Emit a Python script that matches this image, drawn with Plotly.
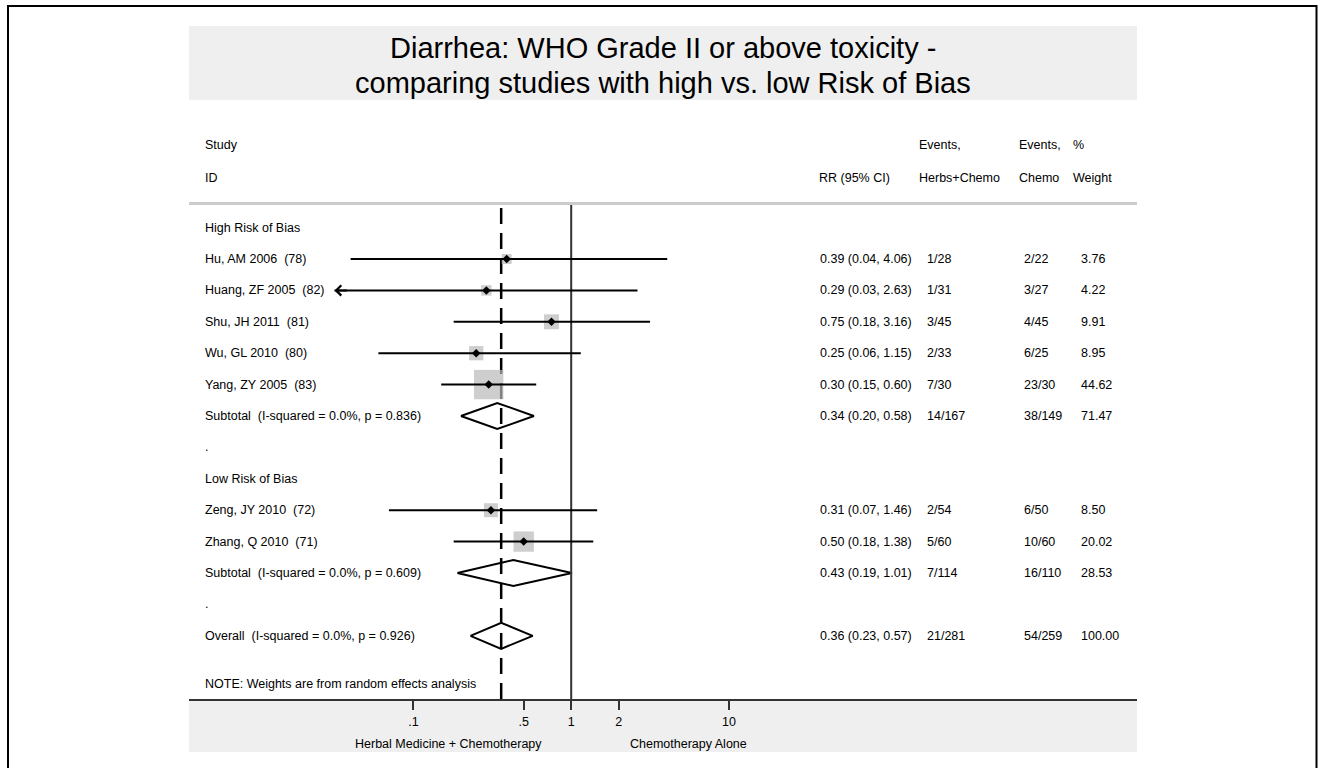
import numpy as np
import plotly.graph_objects as go

# ---------------- data ----------------
high_study = ["Hu, AM 2006  (78)", "Huang, ZF 2005  (82)", "Shu, JH 2011  (81)",
              "Wu, GL 2010  (80)", "Yang, ZY 2005  (83)"]
high_rr = [0.39, 0.29, 0.75, 0.25, 0.30]
high_lo = [0.04, 0.03, 0.18, 0.06, 0.15]
high_hi = [4.06, 2.63, 3.16, 1.15, 0.60]
high_ev_herb = ["1/28", "1/31", "3/45", "2/33", "7/30"]
high_ev_chemo = ["2/22", "3/27", "4/45", "6/25", "23/30"]
high_weight = [3.76, 4.22, 9.91, 8.95, 44.62]

low_study = ["Zeng, JY 2010  (72)", "Zhang, Q 2010  (71)"]
low_rr = [0.31, 0.50]
low_lo = [0.07, 0.18]
low_hi = [1.46, 1.38]
low_ev_herb = ["2/54", "5/60"]
low_ev_chemo = ["6/50", "10/60"]
low_weight = [8.50, 20.02]

group_names = ["High Risk of Bias", "Low Risk of Bias"]
sub_labels = ["Subtotal  (I-squared = 0.0%, p = 0.836)",
              "Subtotal  (I-squared = 0.0%, p = 0.609)"]
sub_rr = [0.34, 0.43]
sub_lo = [0.20, 0.19]
sub_hi = [0.58, 1.01]
sub_ev_herb = ["14/167", "7/114"]
sub_ev_chemo = ["38/149", "16/110"]
sub_weight = [71.47, 28.53]

overall_label = "Overall  (I-squared = 0.0%, p = 0.926)"
overall_rr = 0.36
overall_lo = 0.23
overall_hi = 0.57
overall_ev_herb = "21/281"
overall_ev_chemo = "54/259"
overall_weight = 100.00

tick_vals = [0.1, 0.5, 1, 2, 10]
tick_text = [".1", ".5", "1", "2", "10"]

title_lines = ["Diarrhea: WHO Grade II or above toxicity -",
               "comparing studies with high vs. low Risk of Bias"]
note_text = "NOTE: Weights are from random effects analysis"
favours_left = "Herbal Medicine + Chemotherapy"
favours_right = "Chemotherapy Alone"

# ---------------- layout geometry (pixels) ----------------
W, H = 1318, 768
PL, PR, PT, PB = 189, 1137, 203, 699          # plot area
X_ONE, DECADE = 571.2, 157.8                  # px of RR=1, px per decade
ROW0, ROWH = 227.6, 31.4                      # px of row 0, row height
AXIS_MIN = 10 ** -1.5                         # Stata symmetric display limit

def px2paper_x(px):
    return (px - PL) / (PR - PL)

def px2paper_y(py):
    return (PB - py) / (PB - PT)

def px2row(py):
    return (py - ROW0) / ROWH

x_range = [(PL - X_ONE) / DECADE, (PR - X_ONE) / DECADE]
y_range = [px2row(PB), px2row(PT)]

FONT = "Liberation Sans, Arial, Helvetica, sans-serif"
FS = 12.5
GRAY_BG = "#efefef"

# ---------------- build rows ----------------
rows = []  # (kind, label, rr, lo, hi, herb, chemo, weight)
groups = [
    (high_study, high_rr, high_lo, high_hi, high_ev_herb, high_ev_chemo, high_weight),
    (low_study, low_rr, low_lo, low_hi, low_ev_herb, low_ev_chemo, low_weight),
]
for g, (names, rr, lo, hi, eh, ec, w) in enumerate(groups):
    rows.append(("group", group_names[g], None, None, None, None, None, None))
    for i in range(len(names)):
        rows.append(("study", names[i], rr[i], lo[i], hi[i], eh[i], ec[i], w[i]))
    rows.append(("sub", sub_labels[g], sub_rr[g], sub_lo[g], sub_hi[g],
                 sub_ev_herb[g], sub_ev_chemo[g], sub_weight[g]))
    rows.append(("blank", ".", None, None, None, None, None, None))
rows.append(("sub", overall_label, overall_rr, overall_lo, overall_hi,
             overall_ev_herb, overall_ev_chemo, overall_weight))

fig = go.Figure()

# diamonds (pooled estimates)
DIA_H = 13.0 / ROWH
for r, row in enumerate(rows):
    kind, label, rr, lo, hi = row[:5]
    if kind == "sub":
        fig.add_trace(go.Scatter(
            x=[lo, rr, hi, rr, lo], y=[r, r - DIA_H, r, r + DIA_H, r],
            mode="lines", fill="toself", fillcolor="white",
            line=dict(color="black", width=2), hoverinfo="skip", showlegend=False))

# reference lines
fig.add_trace(go.Scatter(x=[overall_rr, overall_rr], y=y_range, mode="lines",
                         line=dict(color="black", width=2.5, dash="16px,9px"),
                         hoverinfo="skip", showlegend=False))
fig.add_trace(go.Scatter(x=[1, 1], y=y_range, mode="lines",
                         line=dict(color="#333333", width=2),
                         hoverinfo="skip", showlegend=False))

# study boxes, CIs, point markers
sx, sy, ss = [], [], []
cx, cy = [], []
for r, row in enumerate(rows):
    kind, label, rr, lo, hi, eh, ec, w = row
    if kind == "study":
        sx.append(rr); sy.append(r); ss.append(4.1 * np.sqrt(w) + 2)
        cx += [max(lo, AXIS_MIN), hi, None]; cy += [r, r, None]
fig.add_trace(go.Scatter(x=sx, y=sy, mode="markers",
                         marker=dict(symbol="square", size=ss, color="#b9b9b9",
                                     line=dict(width=0)),
                         hoverinfo="skip", showlegend=False))
fig.add_trace(go.Scatter(x=cx, y=cy, mode="lines",
                         line=dict(color="black", width=2),
                         hoverinfo="skip", showlegend=False))
fig.add_trace(go.Scatter(x=sx, y=sy, mode="markers",
                         marker=dict(symbol="diamond", size=6.5, color="black"),
                         hoverinfo="skip", showlegend=False))

annotations = []
# truncated CI arrows
for r, row in enumerate(rows):
    if row[0] == "study" and row[3] < AXIS_MIN:
        annotations.append(dict(x=np.log10(AXIS_MIN), y=r, xref="x", yref="y",
                                ax=14, ay=0, text="", showarrow=True,
                                arrowhead=4, arrowsize=1, arrowwidth=2,
                                arrowcolor="black", standoff=0))

def txt(text, px, y, yref="y", xanchor="left", size=FS, color="black"):
    annotations.append(dict(text=text, x=px2paper_x(px), y=y, xref="paper", yref=yref,
                            xanchor=xanchor, yanchor="middle", showarrow=False,
                            font=dict(family=FONT, size=size, color=color)))

COL_LABEL, COL_RR, COL_HERB, COL_CHEMO, COL_W = 203, 818, 925, 1022, 1079
for r, row in enumerate(rows):
    kind, label, rr, lo, hi, eh, ec, w = row
    txt(label, COL_LABEL, r)
    if kind in ("study", "sub"):
        txt(f"{rr:.2f} ({lo:.2f}, {hi:.2f})", COL_RR, r)
        txt(eh, COL_HERB, r)
        txt(ec, COL_CHEMO, r)
        txt(f"{w:.2f}", COL_W, r)
txt(note_text, COL_LABEL, px2paper_y(684), yref="paper")

# header
for text, px, py in [("Study", 203, 145), ("ID", 203, 178), ("RR (95% CI)", 817, 178),
                     ("Events,", 917, 145), ("Herbs+Chemo", 917, 178),
                     ("Events,", 1017, 145), ("Chemo", 1017, 178),
                     ("%", 1071, 145), ("Weight", 1071, 178)]:
    txt(text, px, px2paper_y(py), yref="paper")

# title
for line, py in zip(title_lines, [48, 83]):
    txt(line, (PL + PR) / 2, px2paper_y(py), yref="paper", xanchor="center", size=29)

# favours labels
txt(favours_left, 448, px2paper_y(744), yref="paper", xanchor="center")
txt(favours_right, 688, px2paper_y(744), yref="paper", xanchor="center")

shapes = [
    # grey panels
    dict(type="rect", xref="paper", yref="paper", x0=0, x1=1,
         y0=px2paper_y(100), y1=px2paper_y(26), fillcolor=GRAY_BG,
         line=dict(width=0), layer="below"),
    dict(type="rect", xref="paper", yref="paper", x0=0, x1=1,
         y0=px2paper_y(752), y1=0, fillcolor=GRAY_BG,
         line=dict(width=0), layer="below"),
    # header separator
    dict(type="line", xref="paper", yref="paper", x0=0, x1=1,
         y0=px2paper_y(203.5), y1=px2paper_y(203.5),
         line=dict(color="#cccccc", width=3)),
    # outer frame
    dict(type="rect", xref="paper", yref="paper",
         x0=px2paper_x(8), x1=px2paper_x(1316.5),
         y0=px2paper_y(790), y1=px2paper_y(6),
         line=dict(color="black", width=2), fillcolor="rgba(0,0,0,0)"),
]

fig.update_layout(
    width=W, height=H,
    margin=dict(l=PL, r=W - PR, t=PT, b=H - PB, pad=0),
    paper_bgcolor="white", plot_bgcolor="white",
    showlegend=False,
    annotations=annotations, shapes=shapes,
    xaxis=dict(type="log", range=x_range, showgrid=False, zeroline=False,
               showline=True, linecolor="#333333", linewidth=2,
               ticks="outside", ticklen=9, tickwidth=2, tickcolor="#333333",
               tickvals=tick_vals, ticktext=tick_text, ticklabelstandoff=1,
               tickfont=dict(family=FONT, size=FS, color="black"), fixedrange=True),
    yaxis=dict(range=y_range, visible=False, showgrid=False, zeroline=False,
               fixedrange=True),
)

fig.write_html("out.html")
